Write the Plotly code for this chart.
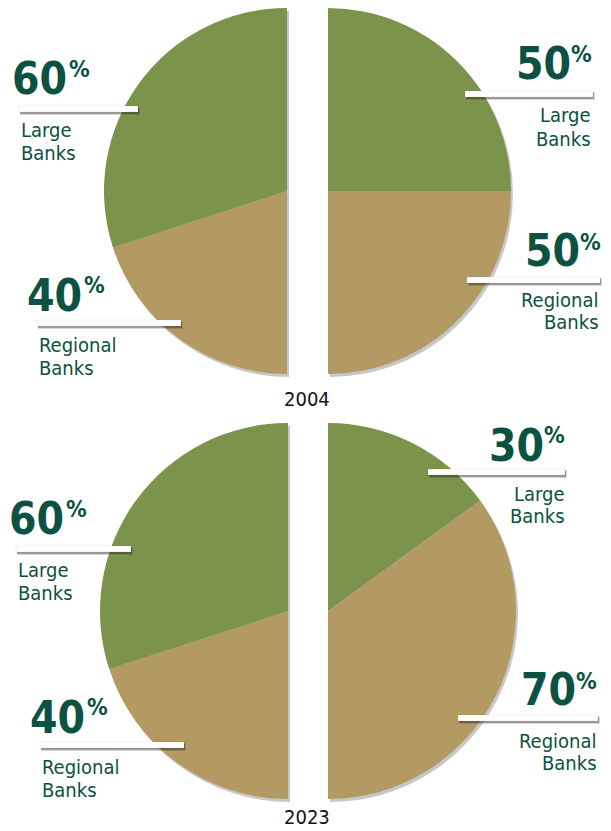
import plotly.graph_objects as go

# ---------------- data ----------------
years = ["2004", "2023"]
segments = ["Large Banks", "Regional Banks"]
left_large = [60, 60]
left_regional = [40, 40]
right_large = [50, 30]
right_regional = [50, 70]

# ---------------- style / layout ----------------
W, H = 611, 831
GREEN = "#7b934b"
TAN = "#b29a62"
TEXT = "#0c5142"
SHADOW = "rgba(70,70,70,0.30)"
FONT = "Noto Sans Condensed, Liberation Sans Narrow, DejaVu Sans Condensed, sans-serif"

# pie geometry in pixels for each year: (left flat x, right flat x, center y, radius)
pie_geom = [(287, 328, 191, 183), (288, 328, 611, 188)]

def fx(x):
    return x / W

def fy(y):
    return 1 - y / H

fig = go.Figure()

def add_half(cx, cy, r, large, regional, side, shadow=False, dx=0, dy=0):
    cxp, cyp = cx + dx, cy + dy
    blank = "rgba(0,0,0,0)"
    g, t = (SHADOW, SHADOW) if shadow else (GREEN, TAN)
    if side == "left":
        # clockwise from 12 o'clock: blank right half, then regional, then large back to top
        values = [large + regional, regional, large]
        labels = ["blank", "Regional Banks", "Large Banks"]
        colors = [blank, t, g]
    else:
        values = [large, regional, large + regional]
        labels = ["Large Banks", "Regional Banks", "blank"]
        colors = [g, t, blank]
    fig.add_trace(go.Pie(
        values=values,
        labels=labels,
        sort=False,
        direction="clockwise",
        rotation=0,
        textinfo="none",
        hoverinfo="skip",
        marker=dict(colors=colors, line=dict(width=0)),
        showlegend=False,
        domain=dict(x=[fx(cxp - r), fx(cxp + r)], y=[fy(cyp + r), fy(cyp - r)]),
    ))

for i, (lx, rx, cy, r) in enumerate(pie_geom):
    add_half(lx, cy, r, left_large[i], left_regional[i], "left", shadow=True, dx=2, dy=3)
    add_half(rx, cy, r, right_large[i], right_regional[i], "right", shadow=True, dx=2, dy=3)
    add_half(lx, cy, r, left_large[i], left_regional[i], "left")
    add_half(rx, cy, r, right_large[i], right_regional[i], "right")

# label placements (pixels)
placements = [
    # 2004 left
    dict(side="left", val=left_large[0], name=segments[0], num_cy=78, pct=(68, 69),
         bar=(19, 138, 106, 112), tx=20, lines=(129.5, 152.5)),
    dict(side="left", val=left_regional[0], name=segments[1], num_cy=295, pct=(83, 285),
         bar=(37, 181, 320, 326), tx=38, lines=(344.5, 367.5)),
    # 2004 right
    dict(side="right", val=right_large[0], name=segments[0], num_cy=63.5, pct=(593, 54),
         bar=(465, 593, 91, 97), tx=592, lines=(115.5, 139.5)),
    dict(side="right", val=right_regional[0], name=segments[1], num_cy=250, pct=(602, 242),
         bar=(467, 600, 277, 283), tx=600, lines=(300.5, 322.5)),
    # 2023 left
    dict(side="left", val=left_large[1], name=segments[0], num_cy=518, pct=(65, 509),
         bar=(16, 131, 546, 552), tx=17, lines=(569.5, 592.5)),
    dict(side="left", val=left_regional[1], name=segments[1], num_cy=717, pct=(86, 707),
         bar=(40, 184, 742, 748), tx=41, lines=(766.5, 789.5)),
    # 2023 right
    dict(side="right", val=right_large[1], name=segments[0], num_cy=445, pct=(566, 435),
         bar=(428, 565, 469, 475), tx=566, lines=(493.5, 515.5)),
    dict(side="right", val=right_regional[1], name=segments[1], num_cy=689.5, pct=(598, 681),
         bar=(458, 598, 715, 721), tx=598, lines=(740.5, 762.5)),
]

NUM_SIZE, PCT_SIZE, LBL_SIZE = 44, 23, 20
PCT_W = 21  # approximate width of the % sign box in pixels

annotations = []
shapes = []
for p in placements:
    left = p["side"] == "left"
    px_, pcy = p["pct"]
    if left:
        num_x = px_
        pct_x, pct_anchor = px_, "left"
    else:
        num_x = px_ - PCT_W
        pct_x, pct_anchor = px_, "right"
    x0, x1, y0, y1 = p["bar"]
    # soft shadow under the white bar
    shapes.append(dict(type="rect", xref="paper", yref="paper", layer="above",
                       x0=fx(x0 + 1), x1=fx(x1 + 2), y0=fy(y1 + 3), y1=fy(y0 + 2),
                       fillcolor="rgba(40,40,40,0.18)", line=dict(width=0)))
    shapes.append(dict(type="rect", xref="paper", yref="paper", layer="above",
                       x0=fx(x0 + 1), x1=fx(x1 + 1), y0=fy(y1 + 2), y1=fy(y0 + 1),
                       fillcolor="rgba(40,40,40,0.35)", line=dict(width=0)))
    shapes.append(dict(type="rect", xref="paper", yref="paper", layer="above",
                       x0=fx(x0), x1=fx(x1), y0=fy(y1), y1=fy(y0),
                       fillcolor="white", line=dict(width=0.6, color="rgba(0,0,0,0.10)")))
    annotations.append(dict(
        x=fx(num_x), y=fy(p["num_cy"]), xref="paper", yref="paper",
        text=f"<b>{p['val']}</b>", showarrow=False,
        xanchor="right", yanchor="middle",
        font=dict(family=FONT, size=NUM_SIZE, color=TEXT), borderpad=0,
    ))
    annotations.append(dict(
        x=fx(pct_x), y=fy(pcy), xref="paper", yref="paper",
        text="<b>%</b>", showarrow=False,
        xanchor=pct_anchor, yanchor="middle",
        font=dict(family=FONT, size=PCT_SIZE, color=TEXT), borderpad=0,
    ))
    for w, ly in zip(p["name"].split(" "), p["lines"]):
        annotations.append(dict(
            x=fx(p["tx"]), y=fy(ly), xref="paper", yref="paper",
            text=w, showarrow=False,
            xanchor="left" if left else "right", yanchor="middle",
            font=dict(family=FONT, size=LBL_SIZE, color=TEXT), borderpad=0,
        ))

# year captions
annotations.append(dict(
    x=fx(307), y=fy(399), xref="paper", yref="paper", text=years[0], showarrow=False,
    xanchor="center", yanchor="middle",
    font=dict(family=FONT, size=20, color="#111111"), borderpad=0,
))
annotations.append(dict(
    x=fx(307), y=fy(830), xref="paper", yref="paper", text=years[1], showarrow=False,
    xanchor="center", yanchor="bottom",
    font=dict(family=FONT, size=20, color="#111111"), borderpad=0,
))

fig.update_layout(
    width=W, height=H,
    margin=dict(l=0, r=0, t=0, b=0),
    paper_bgcolor="white", plot_bgcolor="white",
    annotations=annotations, shapes=shapes,
)

fig.write_html(
    "out.html",
    config={"displayModeBar": False},
    post_script="document.body.style.margin='0';document.body.style.overflow='hidden';",
)
